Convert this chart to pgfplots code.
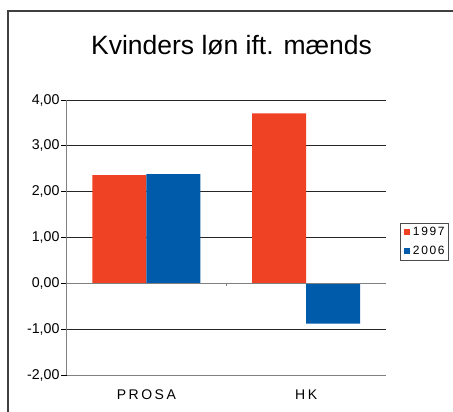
\documentclass[border=0pt]{standalone}
\usepackage{fontspec}
\setmainfont{Liberation Sans}
\newfontfamily\spaced[LetterSpace=18]{Liberation Sans}
\newfontfamily\legspaced[LetterSpace=14]{Liberation Sans}
\usepackage{pgfplots}
\pgfplotsset{compat=1.18}
\definecolor{cred}{HTML}{EF4123}
\definecolor{cblue}{HTML}{005BAA}
\begin{document}
\begin{tikzpicture}[x=1pt,y=1pt]
\path[use as bounding box] (0,0) rectangle (453,412);
\draw[line width=1.2pt, color=black!75] (8,-5) -- (8,401) -- (460,401);
\node at (231.5,367) {\fontsize{26.5}{30}\selectfont Kvinders løn ift. mænds};
\begin{axis}[
  at={(66.5pt,37pt)}, anchor=south west,
  scale only axis, width=319.5pt, height=275pt,
  ymin=-2, ymax=4, ytick={-2,-1,0,1,2,3,4},
  xmin=-0.5, xmax=1.5,
  xtick={0,1}, xticklabels={PROSA,HK},
  ybar=0pt, bar width=54pt,
  axis lines*=left,
  axis line style={color=black!50, line width=0.8pt},
  tick align=outside,
  ytick style={color=black, line width=0.8pt},
  major tick length=5pt,
  xtick style={draw=none},
  ymajorgrids,
  grid style={color=black!85, line width=0.8pt},
  yticklabel style={font=\fontsize{14.2}{16}\selectfont, xshift=1.5pt},
  xticklabel style={font=\spaced\fontsize{14}{16}\selectfont, yshift=-6pt},
  /pgf/number format/.cd, fixed, fixed zerofill, precision=2, use comma, assume math mode=true,
  /pgfplots/.cd,
  legend style={at={(1.043,0.485)}, anchor=west, draw=black!70,
    font=\legspaced\fontsize{12}{14}\selectfont, inner sep=2pt,
    row sep=5pt, legend cell align=left},
  legend image code/.code={\fill[#1] (2pt,-3pt) rectangle (8pt,3pt); \path (0pt,0pt) -- (9pt,0pt);},
]
\addplot[fill=cred, draw=none] coordinates {(0,2.36) (1,3.71)};
\addplot[fill=cblue, draw=none] coordinates {(0,2.38) (1,-0.88)};
\legend{1997,2006}
\draw[color=black!50, line width=0.8pt] (axis cs:-0.5,0) -- (axis cs:1.5,0);
\draw[color=black!50, line width=0.8pt] (axis cs:0.5,0) -- ([yshift=-3pt]axis cs:0.5,0);
\end{axis}
\end{tikzpicture}
\end{document}
